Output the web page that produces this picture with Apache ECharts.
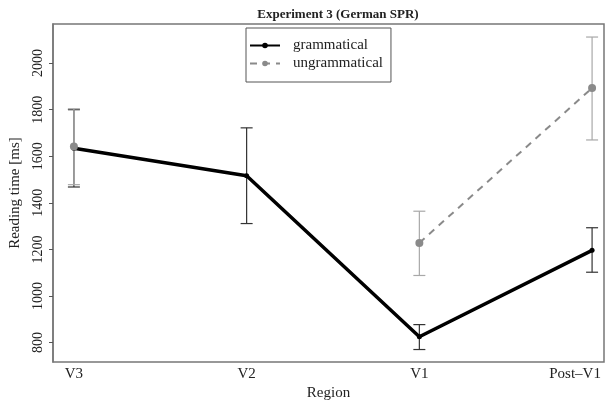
<!DOCTYPE html>
<html>
<head>
<meta charset="utf-8">
<script src="https://cdn.jsdelivr.net/npm/echarts@6/dist/echarts.min.js"></script>
<style>
  html, body { margin: 0; padding: 0; background: #fff; }
  #chart { width: 605px; height: 406px; }
</style>
</head>
<body>
<div id="chart"></div>
<script>
  // regions along the x axis
  const regions = ['V3', 'V2', 'V1', 'Post–V1'];
  const yTicks = [800, 1000, 1200, 1400, 1600, 1800, 2000];

  // grammatical condition: means and error bar ends
  const gramMean = [1634, 1516, 825, 1196];
  const gramLow  = [1468, 1311, 770, 1102];
  const gramHigh = [1800, 1722, 877, 1293];

  // ungrammatical condition (no separate V2 value shown)
  const ungramMean = [1642, null, 1228, 1893];
  const ungramLow  = [1478, null, 1088, 1670];
  const ungramHigh = [1804, null, 1364, 2112];

  const serif = 'Liberation Serif';

  const toPoints = arr => arr.map((v, i) => [i, v]);
  const toBars = (lo, hi) => {
    let out = [];
    for (let i = 0; i < lo.length; i++) {
      if (lo[i] == null) continue;
      out.push([i, lo[i], hi[i]]);
    }
    return out;
  };

  const errorBars = color => (params, api) => {
    let x = api.value(0);
    let top = api.coord([x, api.value(2)]);
    let bot = api.coord([x, api.value(1)]);
    let w = 6;
    let style = { stroke: color, lineWidth: 1.2 };
    return {
      type: 'group',
      children: [
        { type: 'line', shape: { x1: top[0], y1: top[1], x2: bot[0], y2: bot[1] }, style: style },
        { type: 'line', shape: { x1: top[0] - w, y1: top[1], x2: top[0] + w, y2: top[1] }, style: style },
        { type: 'line', shape: { x1: bot[0] - w, y1: bot[1], x2: bot[0] + w, y2: bot[1] }, style: style }
      ]
    };
  };

  const myChart = echarts.init(document.getElementById('chart'));
  let option = {
    animation: false,
    title: {
      text: 'Experiment 3 (German SPR)',
      left: 333,
      textAlign: 'center',
      top: 3,
      textStyle: { fontFamily: serif, fontWeight: 'bold', fontSize: 13, color: '#222' }
    },
    legend: {
      left: 246,
      top: 28,
      orient: 'vertical',
      itemWidth: 30,
      itemHeight: 7,
      itemGap: 3,
      padding: [10, 8, 11, 3],
      borderColor: '#555',
      borderWidth: 1,
      textStyle: { fontFamily: serif, fontSize: 15, color: '#222', padding: [0, 0, 0, 8] },
      data: ['grammatical', 'ungrammatical']
    },
    grid: {
      left: 52,
      right: 1,
      top: 24,
      bottom: 37,
      show: true,
      borderColor: '#777',
      borderWidth: 1.5
    },
    xAxis: {
      type: 'value',
      min: -0.121,
      max: 3.069,
      name: 'Region',
      nameLocation: 'middle',
      nameGap: 19,
      nameTextStyle: { fontFamily: serif, fontSize: 15, color: '#222' },
      axisLine: { show: false },
      axisTick: { show: false },
      splitLine: { show: false },
      axisLabel: {
        customValues: [0, 1, 2, 3],
        margin: 4,
        fontFamily: serif,
        fontSize: 15,
        color: '#222',
        formatter: v => v === 3 ? '{last|' + regions[v] + '}' : regions[v],
        rich: { last: { fontFamily: serif, fontSize: 15, color: '#222', padding: [0, 34, 0, 0] } }
      }
    },
    yAxis: {
      type: 'value',
      min: 716,
      max: 2168,
      name: 'Reading time [ms]',
      nameLocation: 'middle',
      nameGap: 30,
      nameTextStyle: { fontFamily: serif, fontSize: 15, color: '#222' },
      axisLine: { show: true, onZero: false, lineStyle: { color: '#777', width: 1.5 } },
      splitLine: { show: false },
      axisTick: { show: true, inside: false, customValues: yTicks, length: 4, lineStyle: { color: '#555' } },
      axisLabel: {
        customValues: yTicks,
        rotate: 90,
        margin: 8,
        fontFamily: serif,
        fontSize: 14,
        color: '#222',
        formatter: v => String(v)
      }
    },
    series: [
      {
        name: 'gramBars',
        type: 'custom',
        renderItem: errorBars('#333'),
        data: toBars(gramLow, gramHigh),
        silent: true,
        z: 1
      },
      {
        name: 'ungramBars',
        type: 'custom',
        renderItem: errorBars('#a8a8a8'),
        data: toBars(ungramLow, ungramHigh),
        silent: true,
        z: 1
      },
      {
        name: 'grammatical',
        type: 'line',
        data: toPoints(gramMean),
        symbol: 'circle',
        symbolSize: 5,
        itemStyle: { color: '#000' },
        lineStyle: { color: '#000', width: 3.5 },
        z: 3
      },
      {
        name: 'ungrammatical',
        type: 'line',
        data: toPoints(ungramMean),
        connectNulls: false,
        symbol: 'circle',
        symbolSize: 8,
        itemStyle: { color: '#8a8a8a' },
        lineStyle: { color: '#8a8a8a', width: 2, type: [7, 6] },
        z: 4
      }
    ]
  };
  myChart.setOption(option);
</script>
</body>
</html>
